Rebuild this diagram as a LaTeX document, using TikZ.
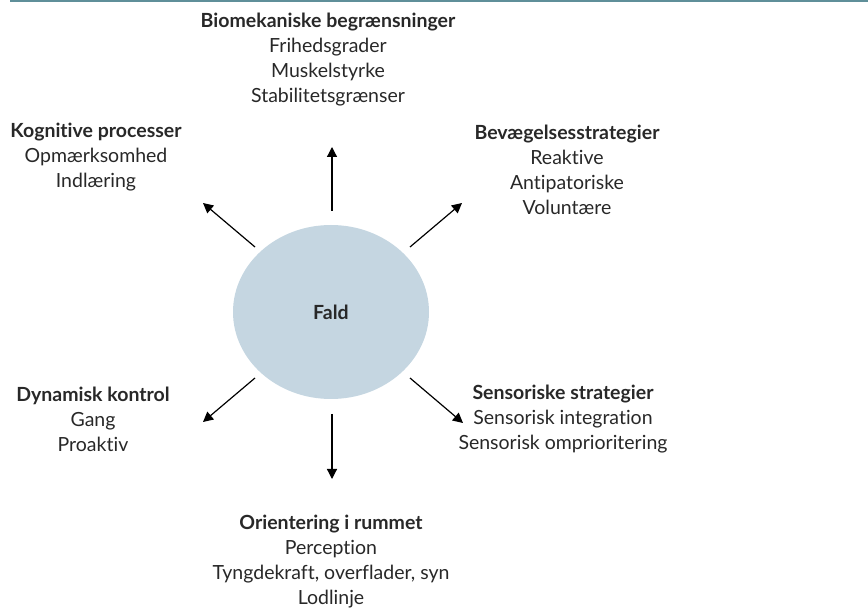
\documentclass[tikz,border=0pt]{standalone}
\usepackage{fontspec}
\setmainfont{Lato}[Ligatures=NoCommon]
\usetikzlibrary{arrows.meta,shapes.geometric}
\definecolor{ellfill}{RGB}{197,214,225}
\definecolor{topline}{RGB}{95,143,153}
\definecolor{txt}{RGB}{40,40,40}
\tikzset{
  block/.style={align=center, text=txt, font=\fontsize{19.5}{25}\selectfont, inner sep=0pt},
  arr/.style={line width=1.2pt, -{Triangle[length=10pt,width=10pt]}},
}
\newcommand{\hd}[1]{{\bfseries #1}}
\begin{document}
\begin{tikzpicture}[x=1pt,y=-1pt]
\useasboundingbox (0,0) rectangle (868,609);
\draw[topline, line width=1.4pt] (10,1) -- (868,1);
\node[ellipse, fill=ellfill, minimum width=196pt, minimum height=174pt, inner sep=0pt, font=\fontsize{19.5}{20}\selectfont\bfseries, text=txt] (fald) at (331,312) {Fald};
\node[block] (bio) at (328,60) {\hd{Biomekaniske begrænsninger}\\Frihedsgrader\\Muskelstyrke\\Stabilitetsgrænser};
\node[block] (kog) at (96,157.5) {\hd{Kognitive processer}\\Opmærksomhed\\Indlæring};
\node[block] (bev) at (567,169.5) {\hd{Bevægelsesstrategier}\\Reaktive\\Antipatoriske\\Voluntære};
\node[block] (dyn) at (93,419) {\hd{Dynamisk kontrol}\\Gang\\Proaktiv};
\node[block] (sen) at (563,419) {\hd{Sensoriske strategier}\\Sensorisk integration\\Sensorisk omprioritering};
\node[block] (ori) at (331,561.5) {\hd{Orientering i rummet}\\Perception\\Tyngdekraft, overflader, syn\\Lodlinje};
\coordinate (sN) at (332,211);
\coordinate (eN) at (332,147);
\coordinate (sNW) at (255,247);
\coordinate (eNW) at (203,203);
\coordinate (sNE) at (410,247);
\coordinate (eNE) at (462,203);
\coordinate (sSW) at (255,378);
\coordinate (eSW) at (203,422);
\coordinate (sSE) at (410,378);
\coordinate (eSE) at (463,423);
\coordinate (sS) at (332,414);
\coordinate (eS) at (332,479);
\draw[arr] (sN) -- (eN);
\draw[arr] (sNW) -- (eNW);
\draw[arr] (sNE) -- (eNE);
\draw[arr] (sSW) -- (eSW);
\draw[arr] (sSE) -- (eSE);
\draw[arr] (sS) -- (eS);
\end{tikzpicture}
\end{document}
